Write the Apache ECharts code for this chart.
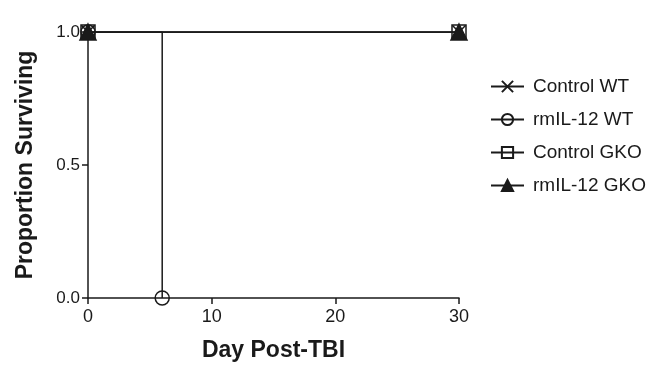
<!DOCTYPE html>
<html>
<head>
<meta charset="utf-8">
<script src="https://cdn.jsdelivr.net/npm/echarts@6/dist/echarts.min.js"></script>
<style>html,body{margin:0;padding:0;background:#fff}#c{width:655px;height:368px}</style>
</head>
<body>
<div id="c"></div>
<script>
const seriesNames = ['Control WT', 'rmIL-12 WT', 'Control GKO', 'rmIL-12 GKO'];
const controlWT = [[0, 1.0], [30, 1.0]];
const rmIL12WT = [[0, 1.0], [6, 0.0]];
const controlGKO = [[0, 1.0], [30, 1.0]];
const rmIL12GKO = [[0, 1.0], [30, 1.0]];
const xTicks = [0, 10, 20, 30];
const yTicks = [0.0, 0.5, 1.0];

const ink = '#1a1a1a';
const font = 'Liberation Sans, Arial, sans-serif';
const xPath = 'path://M0,0 L10,10 M10,0 L0,10';

function mk(name, data, symbol, size, filled) {
  return {
    name: name, type: 'line', data: data, step: 'end',
    symbol: symbol, symbolSize: size, showSymbol: true,
    lineStyle: { color: ink, width: 1.5 },
    itemStyle: { color: filled ? ink : 'transparent', borderColor: ink, borderWidth: 1.5 },
    animation: false
  };
}

const chart = echarts.init(document.getElementById('c'));
chart.setOption({
  backgroundColor: '#fff',
  animation: false,
  grid: { left: 88, right: 196, top: 32, bottom: 70 },
  legend: {
    orient: 'vertical', left: 485, top: 72, padding: 5,
    itemWidth: 33, itemHeight: 14, itemGap: 14,
    textStyle: { fontFamily: font, fontSize: 19, color: ink, padding: [0, 0, 0, 4] },
    data: seriesNames
  },
  xAxis: {
    type: 'value', min: xTicks[0], max: xTicks[xTicks.length - 1], interval: 10,
    name: 'Day Post-TBI', nameLocation: 'middle', nameGap: 41,
    nameTextStyle: { fontFamily: font, fontSize: 23, fontWeight: 'bold', color: ink },
    axisLine: { show: true, onZero: false, lineStyle: { color: ink, width: 1.5 } },
    axisTick: { show: true, length: 6, lineStyle: { color: ink, width: 1.5 } },
    axisLabel: { fontFamily: font, fontSize: 18, color: ink, margin: 10 },
    splitLine: { show: false }
  },
  yAxis: {
    type: 'value', min: yTicks[0], max: yTicks[yTicks.length - 1], interval: 0.5,
    name: 'Proportion Surviving', nameLocation: 'middle', nameGap: 51, nameRotate: 90,
    nameTextStyle: { fontFamily: font, fontSize: 23, fontWeight: 'bold', color: ink },
    axisLine: { show: true, onZero: false, lineStyle: { color: ink, width: 1.5 } },
    axisTick: { show: true, length: 6, lineStyle: { color: ink, width: 1.5 } },
    axisLabel: { fontFamily: font, fontSize: 17, color: ink, margin: 8,
      formatter: v => v.toFixed(1) },
    splitLine: { show: false }
  },
  series: [
    mk(seriesNames[0], controlWT, xPath, 13, false),
    mk(seriesNames[1], rmIL12WT, 'circle', 14, false),
    mk(seriesNames[2], controlGKO, 'rect', 14, false),
    mk(seriesNames[3], rmIL12GKO, 'triangle', 16, true)
  ]
});
</script>
</body>
</html>
